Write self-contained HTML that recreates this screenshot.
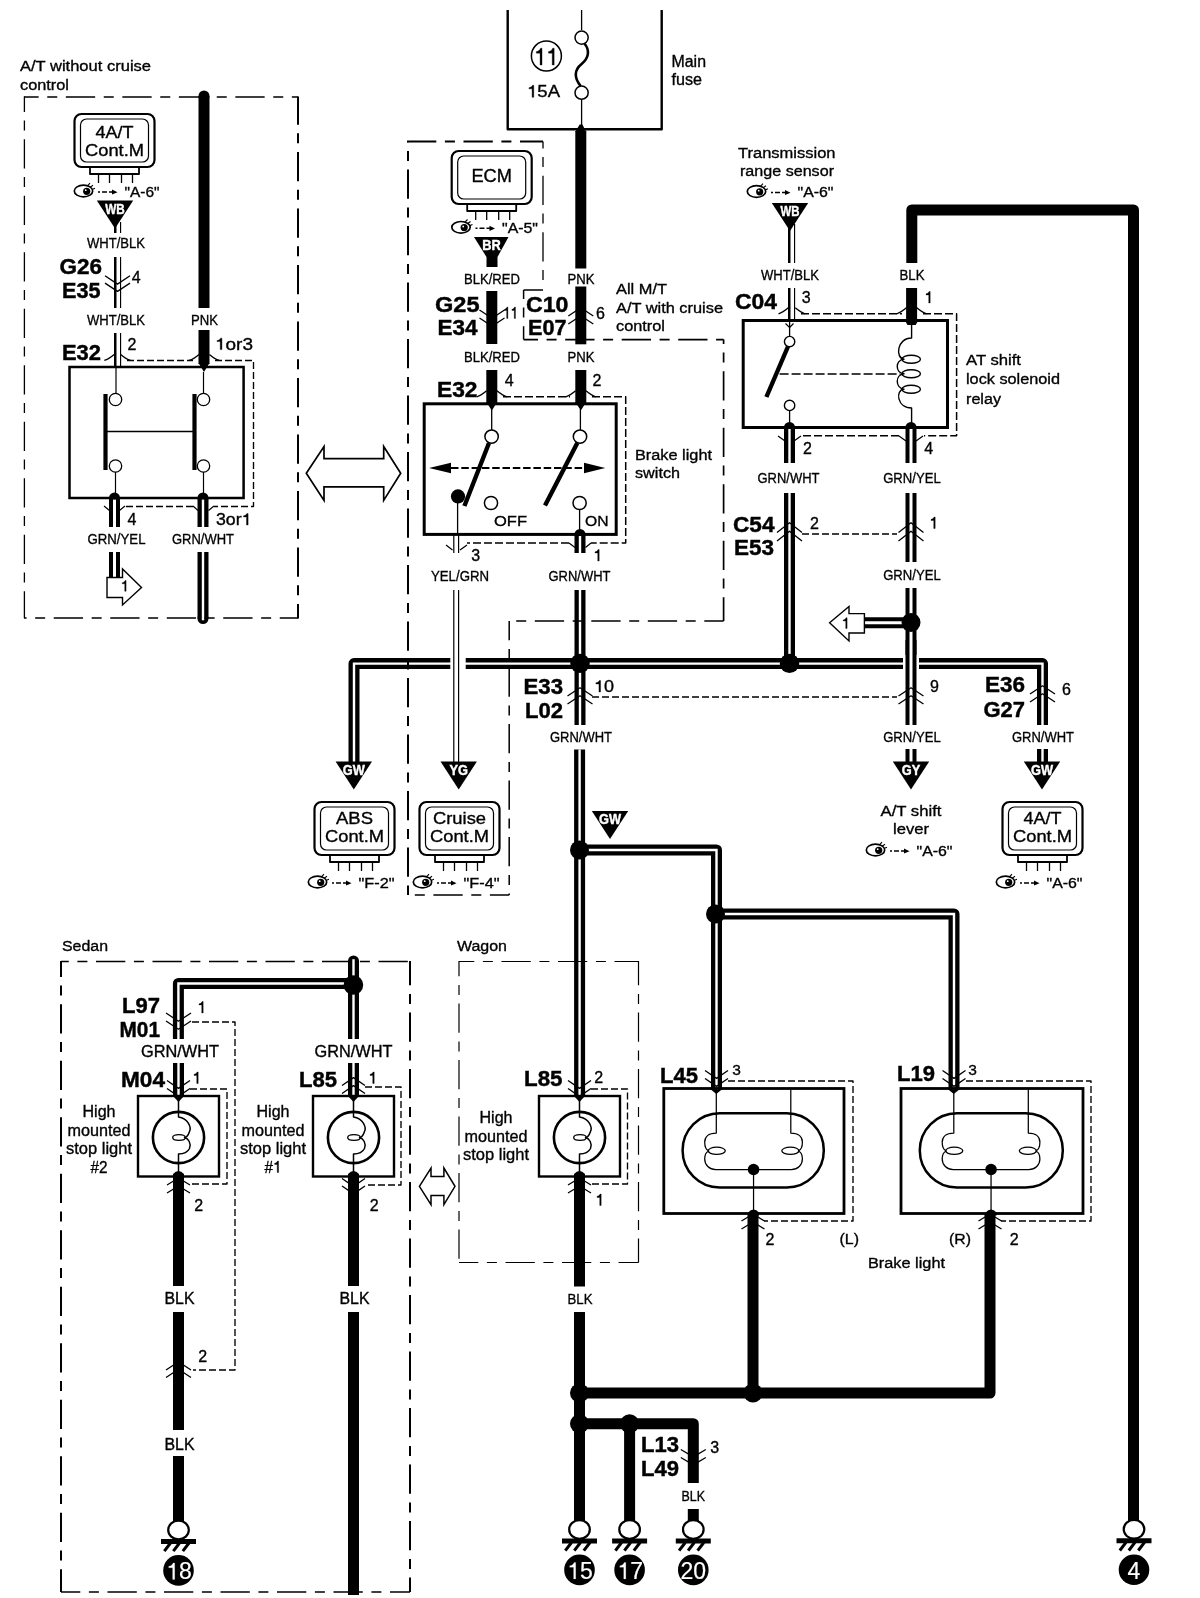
<!DOCTYPE html><html><head><meta charset="utf-8"><title>Brake light wiring diagram</title>
<style>html,body{margin:0;padding:0;background:#fff}svg{display:block}text{font-family:"Liberation Sans",sans-serif}</style></head><body>
<svg width="1200" height="1598" viewBox="0 0 1200 1598">
<rect width="1200" height="1598" fill="#fff"/>
<g id="under">
</g>
<g id="black">
<path d="M204,96 V308" fill="none" stroke="#000" stroke-width="11" stroke-linejoin="round" stroke-linecap="butt"/>
<path d="M204,330 V364" fill="none" stroke="#000" stroke-width="11" stroke-linejoin="round" stroke-linecap="butt"/>
<path d="M198.5,363 L204,372 L209.5,363 Z" fill="#000"/>
<rect x="114" y="222" width="2.5" height="11" fill="#000"/>
<rect x="120" y="222" width="1.15" height="11" fill="#000"/>
<rect x="114" y="257" width="2.5" height="51" fill="#000"/>
<rect x="120" y="257" width="1.15" height="51" fill="#000"/>
<rect x="114" y="333" width="2.5" height="34" fill="#000"/>
<rect x="120" y="333" width="1.15" height="34" fill="#000"/>
<path d="M114.5,499 V527" fill="none" stroke="#000" stroke-width="11" stroke-linejoin="round" stroke-linecap="butt"/>
<path d="M203,499 V527" fill="none" stroke="#000" stroke-width="11" stroke-linejoin="round" stroke-linecap="butt"/>
<path d="M114.5,552 V578" fill="none" stroke="#000" stroke-width="11" stroke-linejoin="round" stroke-linecap="butt"/>
<path d="M203,552 V618.5" fill="none" stroke="#000" stroke-width="11"/>
<circle cx="203" cy="618.5" r="5.5" fill="#000"/>
<path d="M580.8,131 V268.5" fill="none" stroke="#000" stroke-width="11" stroke-linejoin="round" stroke-linecap="butt"/>
<path d="M575.3,132 L579.6,124.5 H582.4 L586.3,132 Z" fill="#000"/>
<path d="M580.8,286.5 V344.3" fill="none" stroke="#000" stroke-width="11" stroke-linejoin="round" stroke-linecap="butt"/>
<path d="M580.8,370 V403" fill="none" stroke="#000" stroke-width="11" stroke-linejoin="round" stroke-linecap="butt"/>
<path d="M491.8,291 V344" fill="none" stroke="#000" stroke-width="11" stroke-linejoin="round" stroke-linecap="butt"/>
<path d="M491.8,370 V403" fill="none" stroke="#000" stroke-width="11" stroke-linejoin="round" stroke-linecap="butt"/>
<path d="M486.3,402 L491.8,410.5 L497.3,402 Z" fill="#000"/>
<path d="M575.3,402 L580.8,410.5 L586.3,402 Z" fill="#000"/>
<rect x="453.2" y="534" width="1.2" height="19" fill="#000"/>
<rect x="458" y="534" width="1.2" height="19" fill="#000"/>
<path d="M580,535 V553" fill="none" stroke="#000" stroke-width="11" stroke-linejoin="round" stroke-linecap="butt"/>
<path d="M580,590 V725" fill="none" stroke="#000" stroke-width="11" stroke-linejoin="round" stroke-linecap="butt"/>
<path d="M354,763 V663.6 H1042.5 V725" fill="none" stroke="#000" stroke-width="11" stroke-linejoin="round" stroke-linecap="butt"/>
<path d="M1042.5,749 V763" fill="none" stroke="#000" stroke-width="11" stroke-linejoin="round" stroke-linecap="butt"/>
<path d="M579.6,749.5 V1097" fill="none" stroke="#000" stroke-width="11" stroke-linejoin="round" stroke-linecap="butt"/>
<path d="M579,850 H716.5 V1090" fill="none" stroke="#000" stroke-width="11" stroke-linejoin="round" stroke-linecap="butt"/>
<path d="M716,914 H954 V1090" fill="none" stroke="#000" stroke-width="11" stroke-linejoin="round" stroke-linecap="butt"/>
<rect x="788" y="224" width="2.5" height="39" fill="#000"/>
<rect x="794" y="224" width="1.15" height="39" fill="#000"/>
<rect x="788" y="288" width="2.5" height="33" fill="#000"/>
<rect x="794" y="288" width="1.15" height="33" fill="#000"/>
<path d="M911.8,263 V210 H1133.5 V1521" fill="none" stroke="#000" stroke-width="11" stroke-linejoin="round" stroke-linecap="butt"/>
<path d="M911.6,288 V323" fill="none" stroke="#000" stroke-width="11" stroke-linejoin="round" stroke-linecap="butt"/>
<path d="M906.1,322.5 L907.5,325 H915.7 L917.1,322.5 Z" fill="#000"/>
<path d="M789.5,428 V463" fill="none" stroke="#000" stroke-width="11" stroke-linejoin="round" stroke-linecap="butt"/>
<path d="M789.5,493 V663" fill="none" stroke="#000" stroke-width="11" stroke-linejoin="round" stroke-linecap="butt"/>
<path d="M911,428 V463" fill="none" stroke="#000" stroke-width="11" stroke-linejoin="round" stroke-linecap="butt"/>
<path d="M911,493 V562" fill="none" stroke="#000" stroke-width="11" stroke-linejoin="round" stroke-linecap="butt"/>
<path d="M911,588 V656" fill="none" stroke="#000" stroke-width="11" stroke-linejoin="round" stroke-linecap="butt"/>
<path d="M864,622.7 H911" fill="none" stroke="#000" stroke-width="11" stroke-linejoin="round" stroke-linecap="butt"/>
<path d="M911,749 V763" fill="none" stroke="#000" stroke-width="11" stroke-linejoin="round" stroke-linecap="butt"/>
<path d="M353.5,1039 V961" fill="none" stroke="#000" stroke-width="11"/>
<circle cx="353.5" cy="961" r="5.5" fill="#000"/>
<path d="M353.5,983.5 H178.4 V1039" fill="none" stroke="#000" stroke-width="11" stroke-linejoin="round" stroke-linecap="butt"/>
<path d="M178.5,1063 V1097" fill="none" stroke="#000" stroke-width="11" stroke-linejoin="round" stroke-linecap="butt"/>
<path d="M353.5,1063 V1097" fill="none" stroke="#000" stroke-width="11" stroke-linejoin="round" stroke-linecap="butt"/>
<path d="M173.0,1096 L178.5,1102 L184.0,1096 Z" fill="#000"/>
<path d="M173.0,1176 L173.0,1174 Q178.5,1168 184.0,1174 L184.0,1176 Z" fill="#000"/>
<path d="M348.0,1096 L353.5,1102 L359.0,1096 Z" fill="#000"/>
<path d="M348.0,1176 L348.0,1174 Q353.5,1168 359.0,1174 L359.0,1176 Z" fill="#000"/>
<path d="M574.0,1096 L579.5,1102 L585.0,1096 Z" fill="#000"/>
<path d="M574.0,1176 L574.0,1174 Q579.5,1168 585.0,1174 L585.0,1176 Z" fill="#000"/>
<path d="M178.5,1176 V1286" fill="none" stroke="#000" stroke-width="11" stroke-linejoin="round" stroke-linecap="butt"/>
<path d="M178.5,1312 V1430" fill="none" stroke="#000" stroke-width="11" stroke-linejoin="round" stroke-linecap="butt"/>
<path d="M178.5,1456 V1521" fill="none" stroke="#000" stroke-width="11" stroke-linejoin="round" stroke-linecap="butt"/>
<path d="M353.5,1176 V1286" fill="none" stroke="#000" stroke-width="11" stroke-linejoin="round" stroke-linecap="butt"/>
<path d="M353.5,1312 V1595" fill="none" stroke="#000" stroke-width="11" stroke-linejoin="round" stroke-linecap="butt"/>
<path d="M579.5,1176 V1286.5" fill="none" stroke="#000" stroke-width="11" stroke-linejoin="round" stroke-linecap="butt"/>
<path d="M579.5,1312 V1521" fill="none" stroke="#000" stroke-width="11" stroke-linejoin="round" stroke-linecap="butt"/>
<path d="M579.5,1393 H990 V1213" fill="none" stroke="#000" stroke-width="11" stroke-linejoin="round" stroke-linecap="butt"/>
<path d="M753,1393 V1213" fill="none" stroke="#000" stroke-width="11" stroke-linejoin="round" stroke-linecap="butt"/>
<path d="M579.5,1423.7 H693.3 V1483" fill="none" stroke="#000" stroke-width="11" stroke-linejoin="round" stroke-linecap="butt"/>
<path d="M693.3,1509 V1521" fill="none" stroke="#000" stroke-width="11" stroke-linejoin="round" stroke-linecap="butt"/>
<path d="M629.6,1423.7 V1521" fill="none" stroke="#000" stroke-width="11" stroke-linejoin="round" stroke-linecap="butt"/>
<path d="M710.8,1088.5 L710.8,1089.5 L716.3,1094.0 L721.8,1089.5 L721.8,1088.5 Z" fill="#000"/>
<path d="M748.05,1215.5 L748.05,1212.5 Q753.55,1206.5 759.05,1212.5 L759.05,1215.5 Z" fill="#000"/>
<path d="M948.3,1088.5 L948.3,1089.5 L953.8,1094.0 L959.3,1089.5 L959.3,1088.5 Z" fill="#000"/>
<path d="M985.55,1215.5 L985.55,1212.5 Q991.05,1206.5 996.55,1212.5 L996.55,1215.5 Z" fill="#000"/>
</g>
<g id="white">
<path d="M114.5,499 V527" fill="none" stroke="#fff" stroke-width="3" stroke-linejoin="miter" stroke-linecap="butt"/>
<path d="M203,499 V527" fill="none" stroke="#fff" stroke-width="2.4" stroke-linejoin="miter" stroke-linecap="butt"/>
<path d="M114.5,552 V578" fill="none" stroke="#fff" stroke-width="3" stroke-linejoin="miter" stroke-linecap="butt"/>
<path d="M203,552 V620.3" fill="none" stroke="#fff" stroke-width="2.4"/>
<path d="M580,535 V553" fill="none" stroke="#fff" stroke-width="2.4" stroke-linejoin="miter" stroke-linecap="butt"/>
<path d="M580,590 V725" fill="none" stroke="#fff" stroke-width="2.4" stroke-linejoin="miter" stroke-linecap="butt"/>
<path d="M354,763 V663.6 H1042.5 V725" fill="none" stroke="#fff" stroke-width="2.4" stroke-linejoin="miter" stroke-linecap="butt"/>
<path d="M1042.5,749 V763" fill="none" stroke="#fff" stroke-width="2.4" stroke-linejoin="miter" stroke-linecap="butt"/>
<path d="M579.6,749.5 V1097" fill="none" stroke="#fff" stroke-width="2.4" stroke-linejoin="miter" stroke-linecap="butt"/>
<path d="M579,850 H716.5 V1090" fill="none" stroke="#fff" stroke-width="2.4" stroke-linejoin="miter" stroke-linecap="butt"/>
<path d="M716,914 H954 V1090" fill="none" stroke="#fff" stroke-width="2.4" stroke-linejoin="miter" stroke-linecap="butt"/>
<path d="M789.5,428 V463" fill="none" stroke="#fff" stroke-width="2.4" stroke-linejoin="miter" stroke-linecap="butt"/>
<path d="M789.5,493 V663" fill="none" stroke="#fff" stroke-width="2.4" stroke-linejoin="miter" stroke-linecap="butt"/>
<path d="M911,428 V463" fill="none" stroke="#fff" stroke-width="3" stroke-linejoin="miter" stroke-linecap="butt"/>
<path d="M911,493 V562" fill="none" stroke="#fff" stroke-width="3" stroke-linejoin="miter" stroke-linecap="butt"/>
<path d="M911,588 V656" fill="none" stroke="#fff" stroke-width="3" stroke-linejoin="miter" stroke-linecap="butt"/>
<path d="M864,622.7 H911" fill="none" stroke="#fff" stroke-width="3" stroke-linejoin="miter" stroke-linecap="butt"/>
<path d="M911,749 V763" fill="none" stroke="#fff" stroke-width="3" stroke-linejoin="miter" stroke-linecap="butt"/>
<path d="M353.5,1039 V959.2" fill="none" stroke="#fff" stroke-width="2.4"/>
<path d="M353.5,983.5 H178.4 V1039" fill="none" stroke="#fff" stroke-width="2.4" stroke-linejoin="miter" stroke-linecap="butt"/>
<path d="M178.5,1063 V1097" fill="none" stroke="#fff" stroke-width="2.4" stroke-linejoin="miter" stroke-linecap="butt"/>
<path d="M353.5,1063 V1097" fill="none" stroke="#fff" stroke-width="2.4" stroke-linejoin="miter" stroke-linecap="butt"/>
</g>
<g id="over">
<circle cx="204" cy="96" r="5.5" fill="#000"/>
<path d="M109.0,499.6 V498 A5.5,5.5 0 0 1 120.0,498 V499.6 Z" fill="#000"/>
<path d="M197.5,499.6 V498 A5.5,5.5 0 0 1 208.5,498 V499.6 Z" fill="#000"/>
<path d="M574.5,536.1 V534.5 A5.5,5.5 0 0 1 585.5,534.5 V536.1 Z" fill="#000"/>
<rect x="450.3" y="655" width="15.399999999999977" height="16" fill="#fff"/>
<rect x="453.2" y="590" width="1.2" height="173" fill="#000"/><rect x="458" y="590" width="1.2" height="173" fill="#000"/>
<path d="M784.0,429.1 V427.5 A5.5,5.5 0 0 1 795.0,427.5 V429.1 Z" fill="#000"/>
<path d="M905.5,429.1 V427.5 A5.5,5.5 0 0 1 916.5,427.5 V429.1 Z" fill="#000"/>
<rect x="903" y="655" width="16" height="16" fill="#fff"/>
<path d="M911,640 V725" fill="none" stroke="#000" stroke-width="11" stroke-linejoin="round"/>
<path d="M911,640 V725" fill="none" stroke="#fff" stroke-width="3"/>
</g>
<g id="top">
<path d="M24,97 L298,97" fill="none" stroke="#000" stroke-width="1.3" stroke-dasharray="29.3 8.6 10 8.6" stroke-dashoffset="14.65"/>
<path d="M24.4,96.4 L24.4,618" fill="none" stroke="#000" stroke-width="1.3" stroke-dasharray="29.3 8.6 10 8.6" stroke-dashoffset="13.7"/>
<path d="M298,96.4 L298,618.6" fill="none" stroke="#000" stroke-width="2" stroke-dasharray="29.3 8.6 10 8.6" stroke-dashoffset="1"/>
<path d="M24,618 L298,618" fill="none" stroke="#000" stroke-width="1.3" stroke-dasharray="29.3 8.6 10 8.6" stroke-dashoffset="26.75"/>
<rect x="74.5" y="114" width="80.0" height="53" rx="7" fill="#fff" stroke="#000" stroke-width="2.2"/>
<rect x="80.5" y="119" width="68.0" height="43" rx="6" fill="none" stroke="#000" stroke-width="1.2"/>
<path d="M90.0,167 V174 H139.0 V167" fill="none" stroke="#000" stroke-width="1.8" stroke-linecap="butt" stroke-linejoin="round"/>
<path d="M98.5,174 V183" fill="none" stroke="#000" stroke-width="1.3" stroke-linecap="butt" stroke-linejoin="round"/>
<path d="M109.5,174 V183" fill="none" stroke="#000" stroke-width="1.3" stroke-linecap="butt" stroke-linejoin="round"/>
<path d="M121.5,174 V183" fill="none" stroke="#000" stroke-width="1.3" stroke-linecap="butt" stroke-linejoin="round"/>
<path d="M132.5,174 V183" fill="none" stroke="#000" stroke-width="1.3" stroke-linecap="butt" stroke-linejoin="round"/>
<ellipse cx="83.5" cy="191" rx="9.2" ry="5.8" fill="#fff" stroke="#000" stroke-width="1.7"/>
<circle cx="86.7" cy="191.3" r="3.6" fill="#000"/>
<circle cx="85.7" cy="190.2" r="0.9" fill="#fff"/>
<path d="M87.5,185.8 l2.5,-2.6 M90.0,187.4 l3,-2.2 M92.0,189.4 l3,-1.2" fill="none" stroke="#000" stroke-width="1.1" stroke-linecap="butt" stroke-linejoin="round"/>
<path d="M98,192 h2 M102,192 h5 M109,192 h4" fill="none" stroke="#000" stroke-width="1.5" stroke-linecap="butt" stroke-linejoin="round"/>
<path d="M112,189.4 L117.5,192.2 L112,194.6 Z" fill="#000"/>
<path d="M96.8,200.5 L133.2,200.5 L115,228.5 Z" fill="#000"/>
<path d="M105.0,275.8 L117.5,284.10555555555555 L130.0,275.8" fill="none" stroke="#000" stroke-width="1.3" stroke-linecap="butt" stroke-linejoin="round"/>
<path d="M105.0,283.1 L117.5,291.40555555555557 L130.0,283.1" fill="none" stroke="#000" stroke-width="1.3" stroke-linecap="butt" stroke-linejoin="round"/>
<path d="M104.3,360.4 Q108.575,359.2 114.1,354.4" fill="none" stroke="#000" stroke-width="1.3" stroke-linecap="butt" stroke-linejoin="round"/>
<path d="M130.5,360.4 Q126.225,359.2 120.7,354.4" fill="none" stroke="#000" stroke-width="1.3" stroke-linecap="butt" stroke-linejoin="round"/>
<path d="M189.2,360.4 Q193.475,359.2 199.0,354.4" fill="none" stroke="#000" stroke-width="1.3" stroke-linecap="butt" stroke-linejoin="round"/>
<path d="M219.2,360.4 Q214.92499999999998,359.2 209.39999999999998,354.4" fill="none" stroke="#000" stroke-width="1.3" stroke-linecap="butt" stroke-linejoin="round"/>
<path d="M127,360.5 H193" fill="none" stroke="#000" stroke-width="1.35" stroke-dasharray="7 3" stroke-linecap="butt" stroke-linejoin="round"/>
<path d="M215,360.5 H253.5 V506.5 H214" fill="none" stroke="#000" stroke-width="1.35" stroke-dasharray="7 3" stroke-linecap="butt" stroke-linejoin="round"/>
<path d="M193,506.5 H125" fill="none" stroke="#000" stroke-width="1.35" stroke-dasharray="7 3" stroke-linecap="butt" stroke-linejoin="round"/>
<rect x="69.5" y="367" width="174.1" height="131" rx="0" fill="none" stroke="#000" stroke-width="2.5"/>
<path d="M116,368 V393" fill="none" stroke="#000" stroke-width="1.2" stroke-linecap="butt" stroke-linejoin="round"/>
<circle cx="115.5" cy="399.5" r="6.2" fill="#fff" stroke="#000" stroke-width="1.3"/>
<circle cx="115.5" cy="466" r="6.2" fill="#fff" stroke="#000" stroke-width="1.3"/>
<path d="M115.5,472 V498" fill="none" stroke="#000" stroke-width="1.2" stroke-linecap="butt" stroke-linejoin="round"/>
<path d="M105.5,394 V470" fill="none" stroke="#000" stroke-width="4.2" stroke-linecap="butt" stroke-linejoin="round"/>
<path d="M194.5,394 V470" fill="none" stroke="#000" stroke-width="4.2" stroke-linecap="butt" stroke-linejoin="round"/>
<path d="M106,431.5 H194" fill="none" stroke="#000" stroke-width="1.3" stroke-linecap="butt" stroke-linejoin="round"/>
<path d="M203.5,372 V393" fill="none" stroke="#000" stroke-width="1.2" stroke-linecap="butt" stroke-linejoin="round"/>
<circle cx="203.5" cy="399.5" r="6.2" fill="#fff" stroke="#000" stroke-width="1.3"/>
<circle cx="203.5" cy="466" r="6.2" fill="#fff" stroke="#000" stroke-width="1.3"/>
<path d="M203.5,472 V498" fill="none" stroke="#000" stroke-width="1.2" stroke-linecap="butt" stroke-linejoin="round"/>
<path d="M104,506 L109.5,510.5" fill="none" stroke="#000" stroke-width="1.2" stroke-linecap="butt" stroke-linejoin="round"/>
<path d="M125,506 L119.5,510.5" fill="none" stroke="#000" stroke-width="1.2" stroke-linecap="butt" stroke-linejoin="round"/>
<path d="M193,506 L198,510.5" fill="none" stroke="#000" stroke-width="1.2" stroke-linecap="butt" stroke-linejoin="round"/>
<path d="M214,506 L208.5,510.5" fill="none" stroke="#000" stroke-width="1.2" stroke-linecap="butt" stroke-linejoin="round"/>
<path d="M107,577.5 H122.5 V569 L141.5,587.5 L122.5,605 V597.5 H107 Z" fill="#fff" stroke="#000" stroke-width="1.4"/>
<path d="M306.3,473.3 L324,446.5 V458.7 H383.7 V446.5 L400.7,473.3 L383.7,500.4 V486.9 H324 V500.4 Z" fill="#fff" stroke="#000" stroke-width="1.7" stroke-linejoin="miter"/>
<path d="M507.7,10 V129.3 H661.7 V10" fill="none" stroke="#000" stroke-width="2.4" stroke-linecap="butt" stroke-linejoin="round"/>
<path d="M581.6,10 V30" fill="none" stroke="#000" stroke-width="1.3" stroke-linecap="butt" stroke-linejoin="round"/>
<circle cx="581.6" cy="37.6" r="6.6" fill="#fff" stroke="#000" stroke-width="1.5"/>
<circle cx="581.6" cy="92.7" r="6.6" fill="#fff" stroke="#000" stroke-width="1.5"/>
<path d="M581.6,100 V126" fill="none" stroke="#000" stroke-width="1.3" stroke-linecap="butt" stroke-linejoin="round"/>
<path d="M584.4,43.5 C590,50 589,58 581.6,64 C574,70 574,78 580.7,86" fill="none" stroke="#000" stroke-width="2.6" stroke-linecap="butt" stroke-linejoin="round"/>
<circle cx="546.4" cy="56" r="15" fill="#fff" stroke="#000" stroke-width="1.5"/>
<path d="M408,141.5 L408,895" fill="none" stroke="#000" stroke-width="2" stroke-dasharray="29.3 8.6 10 8.6" stroke-dashoffset="28.5"/>
<path d="M407,141.5 L543,141.5" fill="none" stroke="#000" stroke-width="2" stroke-dasharray="29.3 8.6 10 8.6" stroke-dashoffset="0"/>
<path d="M543,141.5 L543,285" fill="none" stroke="#000" stroke-width="1.3" stroke-dasharray="29.3 8.6 10 8.6" stroke-dashoffset="22.3"/>
<path d="M523.6,290 H543" fill="none" stroke="#000" stroke-width="1.5" stroke-linecap="butt" stroke-linejoin="round"/>
<path d="M523.6,290 L523.6,339.6" fill="none" stroke="#000" stroke-width="1.5" stroke-dasharray="29.3 8.6 10 8.6" stroke-dashoffset="20.3"/>
<path d="M523.6,339.6 L723.6,339.6" fill="none" stroke="#000" stroke-width="1.7" stroke-dasharray="29.3 8.6 10 8.6" stroke-dashoffset="14.9"/>
<path d="M723.6,339.6 L723.6,621" fill="none" stroke="#000" stroke-width="1.7" stroke-dasharray="29.3 8.6 10 8.6" stroke-dashoffset="24.9"/>
<path d="M723.6,621 L509,621" fill="none" stroke="#000" stroke-width="1.5" stroke-dasharray="29.3 8.6 10 8.6" stroke-dashoffset="10"/>
<path d="M509.2,621 L509.2,895" fill="none" stroke="#000" stroke-width="1.5" stroke-dasharray="29.3 8.6 10 8.6" stroke-dashoffset="10"/>
<path d="M509.2,895 L408,895" fill="none" stroke="#000" stroke-width="1.4" stroke-dasharray="29.3 8.6 10 8.6" stroke-dashoffset="10"/>
<rect x="451.7" y="151" width="80.00000000000006" height="53" rx="7" fill="#fff" stroke="#000" stroke-width="2.2"/>
<rect x="457.7" y="156" width="68.00000000000006" height="43" rx="6" fill="none" stroke="#000" stroke-width="1.2"/>
<path d="M467.2,204 V211 H516.2 V204" fill="none" stroke="#000" stroke-width="1.8" stroke-linecap="butt" stroke-linejoin="round"/>
<path d="M475.7,211 V220" fill="none" stroke="#000" stroke-width="1.3" stroke-linecap="butt" stroke-linejoin="round"/>
<path d="M486.7,211 V220" fill="none" stroke="#000" stroke-width="1.3" stroke-linecap="butt" stroke-linejoin="round"/>
<path d="M498.7,211 V220" fill="none" stroke="#000" stroke-width="1.3" stroke-linecap="butt" stroke-linejoin="round"/>
<path d="M509.7,211 V220" fill="none" stroke="#000" stroke-width="1.3" stroke-linecap="butt" stroke-linejoin="round"/>
<ellipse cx="461.0" cy="227.3" rx="9.2" ry="5.8" fill="#fff" stroke="#000" stroke-width="1.7"/>
<circle cx="464.2" cy="227.60000000000002" r="3.6" fill="#000"/>
<circle cx="463.2" cy="226.5" r="0.9" fill="#fff"/>
<path d="M465.0,222.10000000000002 l2.5,-2.6 M467.5,223.70000000000002 l3,-2.2 M469.5,225.70000000000002 l3,-1.2" fill="none" stroke="#000" stroke-width="1.1" stroke-linecap="butt" stroke-linejoin="round"/>
<path d="M475.5,228.3 h2 M479.5,228.3 h5 M486.5,228.3 h4" fill="none" stroke="#000" stroke-width="1.5" stroke-linecap="butt" stroke-linejoin="round"/>
<path d="M489.5,225.70000000000002 L495.0,228.5 L489.5,230.9 Z" fill="#000"/>
<path d="M474,237 H508.5 L497.5,257 V267 H486.5 V257 Z" fill="#000"/>
<path d="M479.5,310 L492,318.2142857142857 L504.5,310" fill="none" stroke="#000" stroke-width="1.3" stroke-linecap="butt" stroke-linejoin="round"/>
<path d="M479.5,318 L492,326.2142857142857 L504.5,318" fill="none" stroke="#000" stroke-width="1.3" stroke-linecap="butt" stroke-linejoin="round"/>
<path d="M568.3,316 L580.8,307.7857142857143 L593.3,316" fill="none" stroke="#000" stroke-width="1.3" stroke-linecap="butt" stroke-linejoin="round"/>
<path d="M568.3,324 L580.8,315.7857142857143 L593.3,324" fill="none" stroke="#000" stroke-width="1.3" stroke-linecap="butt" stroke-linejoin="round"/>
<rect x="424.2" y="403.8" width="192.00000000000006" height="130.59999999999997" rx="0" fill="none" stroke="#000" stroke-width="3"/>
<path d="M476.8,396.8 Q481.075,395.6 486.6,390.8" fill="none" stroke="#000" stroke-width="1.3" stroke-linecap="butt" stroke-linejoin="round"/>
<path d="M506.8,396.8 Q502.52500000000003,395.6 497.0,390.8" fill="none" stroke="#000" stroke-width="1.3" stroke-linecap="butt" stroke-linejoin="round"/>
<path d="M565.8,396.8 Q570.0749999999999,395.6 575.5999999999999,390.8" fill="none" stroke="#000" stroke-width="1.3" stroke-linecap="butt" stroke-linejoin="round"/>
<path d="M595.8,396.8 Q591.525,395.6 586.0,390.8" fill="none" stroke="#000" stroke-width="1.3" stroke-linecap="butt" stroke-linejoin="round"/>
<path d="M503,396.7 H570" fill="none" stroke="#000" stroke-width="1.5" stroke-dasharray="8 3" stroke-linecap="butt" stroke-linejoin="round"/>
<path d="M592,396.7 H625.7 V543 H591" fill="none" stroke="#000" stroke-width="1.5" stroke-dasharray="8 3" stroke-linecap="butt" stroke-linejoin="round"/>
<path d="M569,543 H467" fill="none" stroke="#000" stroke-width="1.5" stroke-dasharray="8 3" stroke-linecap="butt" stroke-linejoin="round"/>
<path d="M491.7,409 V431" fill="none" stroke="#000" stroke-width="1.3" stroke-linecap="butt" stroke-linejoin="round"/>
<circle cx="491.6" cy="436.6" r="6.7" fill="#fff" stroke="#000" stroke-width="1.5"/>
<path d="M489,443 L464.4,506" fill="none" stroke="#000" stroke-width="4.4" stroke-linecap="butt" stroke-linejoin="round"/>
<circle cx="458" cy="496.4" r="7.1" fill="#000"/>
<path d="M457.6,500 V534" fill="none" stroke="#000" stroke-width="1.3" stroke-linecap="butt" stroke-linejoin="round"/>
<circle cx="491" cy="503" r="6.6" fill="#fff" stroke="#000" stroke-width="1.5"/>
<path d="M580.4,409 V431" fill="none" stroke="#000" stroke-width="1.3" stroke-linecap="butt" stroke-linejoin="round"/>
<circle cx="580" cy="436.6" r="6.7" fill="#fff" stroke="#000" stroke-width="1.5"/>
<path d="M577.3,443 L545,505.5" fill="none" stroke="#000" stroke-width="4.4" stroke-linecap="butt" stroke-linejoin="round"/>
<circle cx="579.6" cy="503" r="6.6" fill="#fff" stroke="#000" stroke-width="1.5"/>
<path d="M579.6,509 V534" fill="none" stroke="#000" stroke-width="1.3" stroke-linecap="butt" stroke-linejoin="round"/>
<path d="M451,468 H585" fill="none" stroke="#000" stroke-width="2.1" stroke-dasharray="7.5 2.8" stroke-linecap="butt" stroke-linejoin="round"/>
<path d="M429,468 L451,462.7 V473.3 Z M605.3,468 L584,462.7 V473.3 Z" fill="#000"/>
<path d="M446,545 L452.5,550" fill="none" stroke="#000" stroke-width="1.2" stroke-linecap="butt" stroke-linejoin="round"/>
<path d="M467,545 L460,550" fill="none" stroke="#000" stroke-width="1.2" stroke-linecap="butt" stroke-linejoin="round"/>
<path d="M569,543 L575,547.5" fill="none" stroke="#000" stroke-width="1.2" stroke-linecap="butt" stroke-linejoin="round"/>
<path d="M591,543 L585.5,547.5" fill="none" stroke="#000" stroke-width="1.2" stroke-linecap="butt" stroke-linejoin="round"/>
<circle cx="580" cy="663.4" r="9.7" fill="#000"/>
<circle cx="789.5" cy="663.4" r="9.7" fill="#000"/>
<path d="M335.6,761.5 L372.0,761.5 L353.8,789.5 Z" fill="#000"/>
<rect x="314.5" y="802" width="80.0" height="53" rx="7" fill="#fff" stroke="#000" stroke-width="2.2"/>
<rect x="320.5" y="807" width="68.0" height="43" rx="6" fill="none" stroke="#000" stroke-width="1.2"/>
<path d="M330.0,855 V862 H379.0 V855" fill="none" stroke="#000" stroke-width="1.8" stroke-linecap="butt" stroke-linejoin="round"/>
<path d="M338.5,862 V871" fill="none" stroke="#000" stroke-width="1.3" stroke-linecap="butt" stroke-linejoin="round"/>
<path d="M349.5,862 V871" fill="none" stroke="#000" stroke-width="1.3" stroke-linecap="butt" stroke-linejoin="round"/>
<path d="M361.5,862 V871" fill="none" stroke="#000" stroke-width="1.3" stroke-linecap="butt" stroke-linejoin="round"/>
<path d="M372.5,862 V871" fill="none" stroke="#000" stroke-width="1.3" stroke-linecap="butt" stroke-linejoin="round"/>
<ellipse cx="317.5" cy="882" rx="9.2" ry="5.8" fill="#fff" stroke="#000" stroke-width="1.7"/>
<circle cx="320.7" cy="882.3" r="3.6" fill="#000"/>
<circle cx="319.7" cy="881.2" r="0.9" fill="#fff"/>
<path d="M321.5,876.8 l2.5,-2.6 M324.0,878.4 l3,-2.2 M326.0,880.4 l3,-1.2" fill="none" stroke="#000" stroke-width="1.1" stroke-linecap="butt" stroke-linejoin="round"/>
<path d="M332,883 h2 M336,883 h5 M343,883 h4" fill="none" stroke="#000" stroke-width="1.5" stroke-linecap="butt" stroke-linejoin="round"/>
<path d="M346,880.4 L351.5,883.2 L346,885.6 Z" fill="#000"/>
<path d="M440.5,761.5 L476.9,761.5 L458.7,789.5 Z" fill="#000"/>
<rect x="419.5" y="802" width="80.0" height="53" rx="7" fill="#fff" stroke="#000" stroke-width="2.2"/>
<rect x="425.5" y="807" width="68.0" height="43" rx="6" fill="none" stroke="#000" stroke-width="1.2"/>
<path d="M435.0,855 V862 H484.0 V855" fill="none" stroke="#000" stroke-width="1.8" stroke-linecap="butt" stroke-linejoin="round"/>
<path d="M443.5,862 V871" fill="none" stroke="#000" stroke-width="1.3" stroke-linecap="butt" stroke-linejoin="round"/>
<path d="M454.5,862 V871" fill="none" stroke="#000" stroke-width="1.3" stroke-linecap="butt" stroke-linejoin="round"/>
<path d="M466.5,862 V871" fill="none" stroke="#000" stroke-width="1.3" stroke-linecap="butt" stroke-linejoin="round"/>
<path d="M477.5,862 V871" fill="none" stroke="#000" stroke-width="1.3" stroke-linecap="butt" stroke-linejoin="round"/>
<ellipse cx="422.5" cy="882" rx="9.2" ry="5.8" fill="#fff" stroke="#000" stroke-width="1.7"/>
<circle cx="425.7" cy="882.3" r="3.6" fill="#000"/>
<circle cx="424.7" cy="881.2" r="0.9" fill="#fff"/>
<path d="M426.5,876.8 l2.5,-2.6 M429.0,878.4 l3,-2.2 M431.0,880.4 l3,-1.2" fill="none" stroke="#000" stroke-width="1.1" stroke-linecap="butt" stroke-linejoin="round"/>
<path d="M437,883 h2 M441,883 h5 M448,883 h4" fill="none" stroke="#000" stroke-width="1.5" stroke-linecap="butt" stroke-linejoin="round"/>
<path d="M451,880.4 L456.5,883.2 L451,885.6 Z" fill="#000"/>
<path d="M567.5,696 L580,687.7857142857143 L592.5,696" fill="none" stroke="#000" stroke-width="1.3" stroke-linecap="butt" stroke-linejoin="round"/>
<path d="M567.5,704 L580,695.7857142857143 L592.5,704" fill="none" stroke="#000" stroke-width="1.3" stroke-linecap="butt" stroke-linejoin="round"/>
<path d="M592,697 H897" fill="none" stroke="#000" stroke-width="1.35" stroke-dasharray="7 3" stroke-linecap="butt" stroke-linejoin="round"/>
<path d="M591.8,811 L628.2,811 L610,839 Z" fill="#000"/>
<circle cx="579.5" cy="850" r="9.5" fill="#000"/>
<circle cx="715.5" cy="914" r="9.5" fill="#000"/>
<ellipse cx="756.5" cy="191.5" rx="9.2" ry="5.8" fill="#fff" stroke="#000" stroke-width="1.7"/>
<circle cx="759.7" cy="191.8" r="3.6" fill="#000"/>
<circle cx="758.7" cy="190.7" r="0.9" fill="#fff"/>
<path d="M760.5,186.3 l2.5,-2.6 M763.0,187.9 l3,-2.2 M765.0,189.9 l3,-1.2" fill="none" stroke="#000" stroke-width="1.1" stroke-linecap="butt" stroke-linejoin="round"/>
<path d="M771,192.5 h2 M775,192.5 h5 M782,192.5 h4" fill="none" stroke="#000" stroke-width="1.5" stroke-linecap="butt" stroke-linejoin="round"/>
<path d="M785,189.9 L790.5,192.7 L785,195.1 Z" fill="#000"/>
<path d="M771.8,203 L808.2,203 L790,231 Z" fill="#000"/>
<rect x="743.2" y="320.5" width="204.29999999999995" height="107.0" rx="0" fill="none" stroke="#000" stroke-width="3"/>
<path d="M778.5,313.8 Q782.775,312.6 788.3,307.8" fill="none" stroke="#000" stroke-width="1.3" stroke-linecap="butt" stroke-linejoin="round"/>
<path d="M805.1,313.8 Q800.825,312.6 795.3000000000001,307.8" fill="none" stroke="#000" stroke-width="1.3" stroke-linecap="butt" stroke-linejoin="round"/>
<path d="M801,313.7 H902" fill="none" stroke="#000" stroke-width="1.5" stroke-dasharray="8 3" stroke-linecap="butt" stroke-linejoin="round"/>
<path d="M923,313.7 H956.6 V435.7 H924" fill="none" stroke="#000" stroke-width="1.5" stroke-dasharray="8 3" stroke-linecap="butt" stroke-linejoin="round"/>
<path d="M899,435.7 H802" fill="none" stroke="#000" stroke-width="1.5" stroke-dasharray="8 3" stroke-linecap="butt" stroke-linejoin="round"/>
<path d="M896.6,313.8 Q900.875,312.6 906.4,307.8" fill="none" stroke="#000" stroke-width="1.3" stroke-linecap="butt" stroke-linejoin="round"/>
<path d="M926.6,313.8 Q922.325,312.6 916.8000000000001,307.8" fill="none" stroke="#000" stroke-width="1.3" stroke-linecap="butt" stroke-linejoin="round"/>
<path d="M785.5,323.5 L789.6,327.5 L793.5,323.5" fill="none" stroke="#000" stroke-width="1.1" stroke-linecap="butt" stroke-linejoin="round"/>
<path d="M789.6,322 V336" fill="none" stroke="#000" stroke-width="1.3" stroke-linecap="butt" stroke-linejoin="round"/>
<circle cx="789.6" cy="341.6" r="5.2" fill="#fff" stroke="#000" stroke-width="1.4"/>
<path d="M788,346.5 L766.4,397" fill="none" stroke="#000" stroke-width="4.4" stroke-linecap="butt" stroke-linejoin="round"/>
<circle cx="789.6" cy="405.4" r="5.2" fill="#fff" stroke="#000" stroke-width="1.4"/>
<path d="M789.6,411 V426" fill="none" stroke="#000" stroke-width="1.3" stroke-linecap="butt" stroke-linejoin="round"/>
<path d="M779.6,374 H900" fill="none" stroke="#000" stroke-width="1.7" stroke-dasharray="9 3" stroke-linecap="butt" stroke-linejoin="round"/>
<path d="M911.6,324 V338 C897,338 895,358 904,359.2 C895,360 895,372.8 904,373.8 C895,374.6 895,388 904,389.2 C895,390 897,408 911.6,408 V427" fill="none" stroke="#000" stroke-width="1.4" stroke-linecap="butt" stroke-linejoin="round"/>
<ellipse cx="911.2" cy="359.2" rx="9.2" ry="4" fill="none" stroke="#000" stroke-width="1.4"/>
<ellipse cx="911.2" cy="373.8" rx="9.2" ry="4" fill="none" stroke="#000" stroke-width="1.4"/>
<ellipse cx="911.2" cy="389.2" rx="9.2" ry="4" fill="none" stroke="#000" stroke-width="1.4"/>
<path d="M778,436 L785,441" fill="none" stroke="#000" stroke-width="1.2" stroke-linecap="butt" stroke-linejoin="round"/>
<path d="M801,436 L794,441" fill="none" stroke="#000" stroke-width="1.2" stroke-linecap="butt" stroke-linejoin="round"/>
<path d="M899,436 L906,441" fill="none" stroke="#000" stroke-width="1.2" stroke-linecap="butt" stroke-linejoin="round"/>
<path d="M923,436 L916,441" fill="none" stroke="#000" stroke-width="1.2" stroke-linecap="butt" stroke-linejoin="round"/>
<path d="M777.0,532.5 L789.5,522.6428571428571 L802.0,532.5" fill="none" stroke="#000" stroke-width="1.3" stroke-linecap="butt" stroke-linejoin="round"/>
<path d="M777.0,541.0 L789.5,531.1428571428571 L802.0,541.0" fill="none" stroke="#000" stroke-width="1.3" stroke-linecap="butt" stroke-linejoin="round"/>
<path d="M898.5,532.5 L911,522.6428571428571 L923.5,532.5" fill="none" stroke="#000" stroke-width="1.3" stroke-linecap="butt" stroke-linejoin="round"/>
<path d="M898.5,541.0 L911,531.1428571428571 L923.5,541.0" fill="none" stroke="#000" stroke-width="1.3" stroke-linecap="butt" stroke-linejoin="round"/>
<path d="M802,534 H897" fill="none" stroke="#000" stroke-width="1.35" stroke-dasharray="7 3" stroke-linecap="butt" stroke-linejoin="round"/>
<path d="M864.4,613.6 H849 V606.4 L829.6,622.7 L849,641 V633 H864.4 Z" fill="#fff" stroke="#000" stroke-width="1.4"/>
<circle cx="911" cy="622.5" r="9.5" fill="#000"/>
<path d="M898.5,696 L911,687.7857142857143 L923.5,696" fill="none" stroke="#000" stroke-width="1.3" stroke-linecap="butt" stroke-linejoin="round"/>
<path d="M898.5,704 L911,695.7857142857143 L923.5,704" fill="none" stroke="#000" stroke-width="1.3" stroke-linecap="butt" stroke-linejoin="round"/>
<path d="M1030.0,694 L1042.5,685.7857142857143 L1055.0,694" fill="none" stroke="#000" stroke-width="1.3" stroke-linecap="butt" stroke-linejoin="round"/>
<path d="M1030.0,702 L1042.5,693.7857142857143 L1055.0,702" fill="none" stroke="#000" stroke-width="1.3" stroke-linecap="butt" stroke-linejoin="round"/>
<path d="M892.8,761.5 L929.2,761.5 L911,789.5 Z" fill="#000"/>
<path d="M1023.8,761.5 L1060.2,761.5 L1042,789.5 Z" fill="#000"/>
<ellipse cx="875.5" cy="850" rx="9.2" ry="5.8" fill="#fff" stroke="#000" stroke-width="1.7"/>
<circle cx="878.7" cy="850.3" r="3.6" fill="#000"/>
<circle cx="877.7" cy="849.2" r="0.9" fill="#fff"/>
<path d="M879.5,844.8 l2.5,-2.6 M882.0,846.4 l3,-2.2 M884.0,848.4 l3,-1.2" fill="none" stroke="#000" stroke-width="1.1" stroke-linecap="butt" stroke-linejoin="round"/>
<path d="M890,851 h2 M894,851 h5 M901,851 h4" fill="none" stroke="#000" stroke-width="1.5" stroke-linecap="butt" stroke-linejoin="round"/>
<path d="M904,848.4 L909.5,851.2 L904,853.6 Z" fill="#000"/>
<rect x="1002.5" y="802" width="80.0" height="53" rx="7" fill="#fff" stroke="#000" stroke-width="2.2"/>
<rect x="1008.5" y="807" width="68.0" height="43" rx="6" fill="none" stroke="#000" stroke-width="1.2"/>
<path d="M1018.0,855 V862 H1067.0 V855" fill="none" stroke="#000" stroke-width="1.8" stroke-linecap="butt" stroke-linejoin="round"/>
<path d="M1026.5,862 V871" fill="none" stroke="#000" stroke-width="1.3" stroke-linecap="butt" stroke-linejoin="round"/>
<path d="M1037.5,862 V871" fill="none" stroke="#000" stroke-width="1.3" stroke-linecap="butt" stroke-linejoin="round"/>
<path d="M1049.5,862 V871" fill="none" stroke="#000" stroke-width="1.3" stroke-linecap="butt" stroke-linejoin="round"/>
<path d="M1060.5,862 V871" fill="none" stroke="#000" stroke-width="1.3" stroke-linecap="butt" stroke-linejoin="round"/>
<ellipse cx="1005.5" cy="882" rx="9.2" ry="5.8" fill="#fff" stroke="#000" stroke-width="1.7"/>
<circle cx="1008.7" cy="882.3" r="3.6" fill="#000"/>
<circle cx="1007.7" cy="881.2" r="0.9" fill="#fff"/>
<path d="M1009.5,876.8 l2.5,-2.6 M1012.0,878.4 l3,-2.2 M1014.0,880.4 l3,-1.2" fill="none" stroke="#000" stroke-width="1.1" stroke-linecap="butt" stroke-linejoin="round"/>
<path d="M1020,883 h2 M1024,883 h5 M1031,883 h4" fill="none" stroke="#000" stroke-width="1.5" stroke-linecap="butt" stroke-linejoin="round"/>
<path d="M1034,880.4 L1039.5,883.2 L1034,885.6 Z" fill="#000"/>
<path d="M61,961.5 L410,961.5" fill="none" stroke="#000" stroke-width="1.4" stroke-dasharray="29.3 8.6 10 8.6" stroke-dashoffset="21.5"/>
<path d="M61,961 L61,1592" fill="none" stroke="#000" stroke-width="2" stroke-dasharray="29.3 8.6 10 8.6" stroke-dashoffset="13.3"/>
<path d="M410,961 L410,1592" fill="none" stroke="#000" stroke-width="2" stroke-dasharray="29.3 8.6 10 8.6" stroke-dashoffset="5"/>
<path d="M61,1592 L410,1592" fill="none" stroke="#000" stroke-width="1.6" stroke-dasharray="29.3 8.6 10 8.6" stroke-dashoffset="10"/>
<circle cx="353.4" cy="985" r="9.8" fill="#000"/>
<path d="M166.0,1013 L178.5,1021.2142857142857 L191.0,1013" fill="none" stroke="#000" stroke-width="1.3" stroke-linecap="butt" stroke-linejoin="round"/>
<path d="M166.0,1021 L178.5,1029.2142857142858 L191.0,1021" fill="none" stroke="#000" stroke-width="1.3" stroke-linecap="butt" stroke-linejoin="round"/>
<path d="M192,1022 H235 V1370 H193" fill="none" stroke="#000" stroke-width="1.35" stroke-dasharray="7 3" stroke-linecap="butt" stroke-linejoin="round"/>
<path d="M167.0,1080.5 L178.5,1088.375 L190.0,1080.5" fill="none" stroke="#000" stroke-width="1.3" stroke-linecap="butt" stroke-linejoin="round"/>
<path d="M167.0,1088.5 L178.5,1096.375 L190.0,1088.5" fill="none" stroke="#000" stroke-width="1.3" stroke-linecap="butt" stroke-linejoin="round"/>
<path d="M190,1089 H227 V1184 H190" fill="none" stroke="#000" stroke-width="1.35" stroke-dasharray="7 3" stroke-linecap="butt" stroke-linejoin="round"/>
<rect x="138.0" y="1096" width="81.0" height="80.5" rx="0" fill="none" stroke="#000" stroke-width="2.4"/>
<circle cx="178.5" cy="1137.5" r="25.6" fill="none" stroke="#000" stroke-width="2.6"/>
<path d="M178.5,1100 V1117.0 C188.5,1118.5 191.5,1127.5 189.5,1131.5 C188.5,1134.5 186.5,1137.5 184.5,1137.5 C188.5,1138.5 191.5,1143.5 189.5,1148.5 C187.5,1152.5 182.5,1154.0 178.5,1154.0 V1173" fill="none" stroke="#000" stroke-width="1.5" stroke-linecap="butt" stroke-linejoin="round"/>
<ellipse cx="179.0" cy="1137.5" rx="6.3" ry="2.9" fill="none" stroke="#000" stroke-width="1.3"/>
<rect x="313.0" y="1096" width="81.0" height="80.5" rx="0" fill="none" stroke="#000" stroke-width="2.4"/>
<circle cx="353.5" cy="1137.5" r="25.6" fill="none" stroke="#000" stroke-width="2.6"/>
<path d="M353.5,1100 V1117.0 C363.5,1118.5 366.5,1127.5 364.5,1131.5 C363.5,1134.5 361.5,1137.5 359.5,1137.5 C363.5,1138.5 366.5,1143.5 364.5,1148.5 C362.5,1152.5 357.5,1154.0 353.5,1154.0 V1173" fill="none" stroke="#000" stroke-width="1.5" stroke-linecap="butt" stroke-linejoin="round"/>
<ellipse cx="354.0" cy="1137.5" rx="6.3" ry="2.9" fill="none" stroke="#000" stroke-width="1.3"/>
<rect x="539.0" y="1096" width="81.0" height="80.5" rx="0" fill="none" stroke="#000" stroke-width="2.4"/>
<circle cx="579.5" cy="1137.5" r="25.6" fill="none" stroke="#000" stroke-width="2.6"/>
<path d="M579.5,1100 V1117.0 C589.5,1118.5 592.5,1127.5 590.5,1131.5 C589.5,1134.5 587.5,1137.5 585.5,1137.5 C589.5,1138.5 592.5,1143.5 590.5,1148.5 C588.5,1152.5 583.5,1154.0 579.5,1154.0 V1173" fill="none" stroke="#000" stroke-width="1.5" stroke-linecap="butt" stroke-linejoin="round"/>
<ellipse cx="580.0" cy="1137.5" rx="6.3" ry="2.9" fill="none" stroke="#000" stroke-width="1.3"/>
<path d="M167.0,1185 L178.5,1178.0 L190.0,1185" fill="none" stroke="#000" stroke-width="1.3" stroke-linecap="butt" stroke-linejoin="round"/>
<path d="M167.0,1193 L178.5,1186.0 L190.0,1193" fill="none" stroke="#000" stroke-width="1.3" stroke-linecap="butt" stroke-linejoin="round"/>
<path d="M166.0,1370 L178.5,1361.7857142857142 L191.0,1370" fill="none" stroke="#000" stroke-width="1.3" stroke-linecap="butt" stroke-linejoin="round"/>
<path d="M166.0,1377.5 L178.5,1369.2857142857142 L191.0,1377.5" fill="none" stroke="#000" stroke-width="1.3" stroke-linecap="butt" stroke-linejoin="round"/>
<ellipse cx="178.5" cy="1530" rx="10.3" ry="9.4" fill="#fff" stroke="#000" stroke-width="2.2"/>
<path d="M161.0,1541.4 H196.0" fill="none" stroke="#000" stroke-width="5" stroke-linecap="butt" stroke-linejoin="round"/>
<path d="M170.5,1543 l-6.2,8.2" fill="none" stroke="#000" stroke-width="3" stroke-linecap="butt" stroke-linejoin="round"/>
<path d="M179.5,1543 l-6.2,8.2" fill="none" stroke="#000" stroke-width="3" stroke-linecap="butt" stroke-linejoin="round"/>
<path d="M189.0,1543 l-6.2,8.2" fill="none" stroke="#000" stroke-width="3" stroke-linecap="butt" stroke-linejoin="round"/>
<circle cx="178.5" cy="1570.4" r="15.3" fill="#000"/>
<path d="M342.0,1085.5 L353.5,1077.625 L365.0,1085.5" fill="none" stroke="#000" stroke-width="1.3" stroke-linecap="butt" stroke-linejoin="round"/>
<path d="M342.0,1093.5 L353.5,1085.625 L365.0,1093.5" fill="none" stroke="#000" stroke-width="1.3" stroke-linecap="butt" stroke-linejoin="round"/>
<path d="M365,1087 H401 V1185 H365" fill="none" stroke="#000" stroke-width="1.35" stroke-dasharray="7 3" stroke-linecap="butt" stroke-linejoin="round"/>
<path d="M342.0,1178.5 L353.5,1186.375 L365.0,1178.5" fill="none" stroke="#000" stroke-width="1.3" stroke-linecap="butt" stroke-linejoin="round"/>
<path d="M342.0,1186.0 L353.5,1193.875 L365.0,1186.0" fill="none" stroke="#000" stroke-width="1.3" stroke-linecap="butt" stroke-linejoin="round"/>
<path d="M419.4,1186.3 L431,1168 V1176.6 H443.9 V1168 L455,1186.3 L443.9,1204.6 V1195.6 H431 V1204.6 Z" fill="#fff" stroke="#000" stroke-width="1.5"/>
<path d="M459,961.5 L638.5,961.5" fill="none" stroke="#000" stroke-width="1.2" stroke-dasharray="29.3 8.6 10 8.6" stroke-dashoffset="14"/>
<path d="M459,961 L459,1262.5" fill="none" stroke="#000" stroke-width="1.2" stroke-dasharray="29.3 8.6 10 8.6" stroke-dashoffset="14"/>
<path d="M638.5,961 L638.5,1262.5" fill="none" stroke="#000" stroke-width="1.2" stroke-dasharray="29.3 8.6 10 8.6" stroke-dashoffset="5"/>
<path d="M459,1262.5 L638.5,1262.5" fill="none" stroke="#000" stroke-width="1.2" stroke-dasharray="29.3 8.6 10 8.6" stroke-dashoffset="10"/>
<path d="M568.0,1080.5 L579.5,1088.375 L591.0,1080.5" fill="none" stroke="#000" stroke-width="1.3" stroke-linecap="butt" stroke-linejoin="round"/>
<path d="M568.0,1088.5 L579.5,1096.375 L591.0,1088.5" fill="none" stroke="#000" stroke-width="1.3" stroke-linecap="butt" stroke-linejoin="round"/>
<path d="M591,1089 H627.5 V1184 H591" fill="none" stroke="#000" stroke-width="1.35" stroke-dasharray="7 3" stroke-linecap="butt" stroke-linejoin="round"/>
<path d="M568.0,1185 L579.5,1178.0 L591.0,1185" fill="none" stroke="#000" stroke-width="1.3" stroke-linecap="butt" stroke-linejoin="round"/>
<path d="M568.0,1193 L579.5,1186.0 L591.0,1193" fill="none" stroke="#000" stroke-width="1.3" stroke-linecap="butt" stroke-linejoin="round"/>
<circle cx="579.5" cy="1393" r="9.5" fill="#000"/>
<circle cx="579.5" cy="1423.7" r="9.5" fill="#000"/>
<circle cx="753" cy="1393" r="9.5" fill="#000"/>
<circle cx="629.6" cy="1423.7" r="9.5" fill="#000"/>
<path d="M680.8,1449.5 L693.3,1456.892857142857 L705.8,1449.5" fill="none" stroke="#000" stroke-width="1.3" stroke-linecap="butt" stroke-linejoin="round"/>
<path d="M680.8,1457.5 L693.3,1464.892857142857 L705.8,1457.5" fill="none" stroke="#000" stroke-width="1.3" stroke-linecap="butt" stroke-linejoin="round"/>
<ellipse cx="579.5" cy="1529.5" rx="10.3" ry="9.4" fill="#fff" stroke="#000" stroke-width="2.2"/>
<path d="M562.0,1540.9 H597.0" fill="none" stroke="#000" stroke-width="5" stroke-linecap="butt" stroke-linejoin="round"/>
<path d="M571.5,1542.5 l-6.2,8.2" fill="none" stroke="#000" stroke-width="3" stroke-linecap="butt" stroke-linejoin="round"/>
<path d="M580.5,1542.5 l-6.2,8.2" fill="none" stroke="#000" stroke-width="3" stroke-linecap="butt" stroke-linejoin="round"/>
<path d="M590.0,1542.5 l-6.2,8.2" fill="none" stroke="#000" stroke-width="3" stroke-linecap="butt" stroke-linejoin="round"/>
<circle cx="579.5" cy="1569.9" r="15.3" fill="#000"/>
<ellipse cx="629.6" cy="1529.5" rx="10.3" ry="9.4" fill="#fff" stroke="#000" stroke-width="2.2"/>
<path d="M612.1,1540.9 H647.1" fill="none" stroke="#000" stroke-width="5" stroke-linecap="butt" stroke-linejoin="round"/>
<path d="M621.6,1542.5 l-6.2,8.2" fill="none" stroke="#000" stroke-width="3" stroke-linecap="butt" stroke-linejoin="round"/>
<path d="M630.6,1542.5 l-6.2,8.2" fill="none" stroke="#000" stroke-width="3" stroke-linecap="butt" stroke-linejoin="round"/>
<path d="M640.1,1542.5 l-6.2,8.2" fill="none" stroke="#000" stroke-width="3" stroke-linecap="butt" stroke-linejoin="round"/>
<circle cx="629.6" cy="1569.9" r="15.3" fill="#000"/>
<ellipse cx="693.3" cy="1529.5" rx="10.3" ry="9.4" fill="#fff" stroke="#000" stroke-width="2.2"/>
<path d="M675.8,1540.9 H710.8" fill="none" stroke="#000" stroke-width="5" stroke-linecap="butt" stroke-linejoin="round"/>
<path d="M685.3,1542.5 l-6.2,8.2" fill="none" stroke="#000" stroke-width="3" stroke-linecap="butt" stroke-linejoin="round"/>
<path d="M694.3,1542.5 l-6.2,8.2" fill="none" stroke="#000" stroke-width="3" stroke-linecap="butt" stroke-linejoin="round"/>
<path d="M703.8,1542.5 l-6.2,8.2" fill="none" stroke="#000" stroke-width="3" stroke-linecap="butt" stroke-linejoin="round"/>
<circle cx="693.3" cy="1569.9" r="15.3" fill="#000"/>
<ellipse cx="1134" cy="1529.3" rx="10.3" ry="9.4" fill="#fff" stroke="#000" stroke-width="2.2"/>
<path d="M1116.5,1540.7 H1151.5" fill="none" stroke="#000" stroke-width="5" stroke-linecap="butt" stroke-linejoin="round"/>
<path d="M1126,1542.3 l-6.2,8.2" fill="none" stroke="#000" stroke-width="3" stroke-linecap="butt" stroke-linejoin="round"/>
<path d="M1135,1542.3 l-6.2,8.2" fill="none" stroke="#000" stroke-width="3" stroke-linecap="butt" stroke-linejoin="round"/>
<path d="M1144.5,1542.3 l-6.2,8.2" fill="none" stroke="#000" stroke-width="3" stroke-linecap="butt" stroke-linejoin="round"/>
<circle cx="1134" cy="1569.7" r="15.3" fill="#000"/>
<rect x="663.8" y="1088.5" width="180.20000000000005" height="125.0" rx="0" fill="none" stroke="#000" stroke-width="2.8"/>
<rect x="682.5999999999999" y="1113.2" width="141.20000000000005" height="74.3" rx="37.1" fill="none" stroke="#000" stroke-width="2.5"/>
<path d="M716.3,1088.5 V1133 C708.3,1133 704.6999999999999,1137 704.6999999999999,1142 C704.6999999999999,1147 706.3,1150 708.8,1151 C706.3,1152 704.6999999999999,1155 704.6999999999999,1159 C704.6999999999999,1165 709.3,1169.5 715.8,1169.5 H753.55" fill="none" stroke="#000" stroke-width="1.25" stroke-linecap="butt" stroke-linejoin="round"/>
<ellipse cx="716.6999999999999" cy="1150.8" rx="8.6" ry="3.6" fill="none" stroke="#000" stroke-width="1.3"/>
<path d="M790.8,1088.5 V1133 C798.8,1133 802.4,1137 802.4,1142 C802.4,1147 800.8,1150 798.3,1151 C800.8,1152 802.4,1155 802.4,1159 C802.4,1165 797.8,1169.5 791.3,1169.5 H753.55" fill="none" stroke="#000" stroke-width="1.25" stroke-linecap="butt" stroke-linejoin="round"/>
<ellipse cx="790.4" cy="1150.8" rx="8.6" ry="3.6" fill="none" stroke="#000" stroke-width="1.3"/>
<circle cx="753.55" cy="1169.5" r="5.8" fill="#000"/>
<path d="M753.55,1169 V1213.5" fill="none" stroke="#000" stroke-width="1.25" stroke-linecap="butt" stroke-linejoin="round"/>
<rect x="901" y="1088.5" width="182" height="125.0" rx="0" fill="none" stroke="#000" stroke-width="2.8"/>
<rect x="919.8" y="1113.2" width="143.0" height="74.3" rx="37.1" fill="none" stroke="#000" stroke-width="2.5"/>
<path d="M953.8,1088.5 V1133 C945.8,1133 942.1999999999999,1137 942.1999999999999,1142 C942.1999999999999,1147 943.8,1150 946.3,1151 C943.8,1152 942.1999999999999,1155 942.1999999999999,1159 C942.1999999999999,1165 946.8,1169.5 953.3,1169.5 H991.05" fill="none" stroke="#000" stroke-width="1.25" stroke-linecap="butt" stroke-linejoin="round"/>
<ellipse cx="954.1999999999999" cy="1150.8" rx="8.6" ry="3.6" fill="none" stroke="#000" stroke-width="1.3"/>
<path d="M1028.3,1088.5 V1133 C1036.3,1133 1039.8999999999999,1137 1039.8999999999999,1142 C1039.8999999999999,1147 1038.3,1150 1035.8,1151 C1038.3,1152 1039.8999999999999,1155 1039.8999999999999,1159 C1039.8999999999999,1165 1035.3,1169.5 1028.8,1169.5 H991.05" fill="none" stroke="#000" stroke-width="1.25" stroke-linecap="butt" stroke-linejoin="round"/>
<ellipse cx="1027.8999999999999" cy="1150.8" rx="8.6" ry="3.6" fill="none" stroke="#000" stroke-width="1.3"/>
<circle cx="991.05" cy="1169.5" r="5.8" fill="#000"/>
<path d="M991.05,1169 V1213.5" fill="none" stroke="#000" stroke-width="1.25" stroke-linecap="butt" stroke-linejoin="round"/>
<path d="M705.0,1070.5 L716.5,1078.375 L728.0,1070.5" fill="none" stroke="#000" stroke-width="1.3" stroke-linecap="butt" stroke-linejoin="round"/>
<path d="M705.0,1078.5 L716.5,1086.375 L728.0,1078.5" fill="none" stroke="#000" stroke-width="1.3" stroke-linecap="butt" stroke-linejoin="round"/>
<path d="M942.5,1070.5 L954,1078.375 L965.5,1070.5" fill="none" stroke="#000" stroke-width="1.3" stroke-linecap="butt" stroke-linejoin="round"/>
<path d="M942.5,1078.5 L954,1086.375 L965.5,1078.5" fill="none" stroke="#000" stroke-width="1.3" stroke-linecap="butt" stroke-linejoin="round"/>
<path d="M728,1081 H853 V1221 H764" fill="none" stroke="#000" stroke-width="1.35" stroke-dasharray="7 3" stroke-linecap="butt" stroke-linejoin="round"/>
<path d="M966,1081 H1091 V1221 H1001" fill="none" stroke="#000" stroke-width="1.35" stroke-dasharray="7 3" stroke-linecap="butt" stroke-linejoin="round"/>
<path d="M741.5,1221 L753,1214.0 L764.5,1221" fill="none" stroke="#000" stroke-width="1.3" stroke-linecap="butt" stroke-linejoin="round"/>
<path d="M741.5,1229 L753,1222.0 L764.5,1229" fill="none" stroke="#000" stroke-width="1.3" stroke-linecap="butt" stroke-linejoin="round"/>
<path d="M978.5,1221 L990,1214.0 L1001.5,1221" fill="none" stroke="#000" stroke-width="1.3" stroke-linecap="butt" stroke-linejoin="round"/>
<path d="M978.5,1229 L990,1222.0 L1001.5,1229" fill="none" stroke="#000" stroke-width="1.3" stroke-linecap="butt" stroke-linejoin="round"/>
</g>
<g id="text" opacity="0.999">
<text x="20.0" y="71.0" font-size="15.5" fill="#000" stroke="#000" stroke-width="0.35" textLength="131.0" lengthAdjust="spacingAndGlyphs">A/T without cruise</text>
<text x="20.0" y="89.5" font-size="15.5" fill="#000" stroke="#000" stroke-width="0.35" textLength="49.0" lengthAdjust="spacingAndGlyphs">control</text>
<text x="191.0" y="325.0" font-size="15.5" fill="#000" stroke="#000" stroke-width="0.35" textLength="27.0" lengthAdjust="spacingAndGlyphs">PNK</text>
<text x="95.5" y="137.8" font-size="17" fill="#000" stroke="#000" stroke-width="0.35" textLength="38.0" lengthAdjust="spacingAndGlyphs">4A/T</text>
<text x="85.0" y="156.4" font-size="17" fill="#000" stroke="#000" stroke-width="0.35" textLength="59.0" lengthAdjust="spacingAndGlyphs">Cont.M</text>
<text x="124.5" y="196.7" font-size="15" fill="#000" stroke="#000" stroke-width="0.35" textLength="35.0" lengthAdjust="spacingAndGlyphs">"A-6"</text>
<text x="105.2" y="213.8" font-size="15" font-weight="bold" fill="#fff" stroke="#fff" stroke-width="0.45" textLength="19.5" lengthAdjust="spacingAndGlyphs">WB</text>
<text x="87.0" y="248.0" font-size="15.5" fill="#000" stroke="#000" stroke-width="0.35" textLength="58.0" lengthAdjust="spacingAndGlyphs">WHT/BLK</text>
<text x="87.0" y="325.0" font-size="15.5" fill="#000" stroke="#000" stroke-width="0.35" textLength="58.0" lengthAdjust="spacingAndGlyphs">WHT/BLK</text>
<text x="59.5" y="274.2" font-size="22.5" font-weight="bold" fill="#000" stroke="#000" stroke-width="0.45" textLength="42.5" lengthAdjust="spacingAndGlyphs">G26</text>
<text x="62.0" y="298.0" font-size="22.5" font-weight="bold" fill="#000" stroke="#000" stroke-width="0.45" textLength="38.5" lengthAdjust="spacingAndGlyphs">E35</text>
<text x="136.2" y="282.7" font-size="16" text-anchor="middle" fill="#000" stroke="#000" stroke-width="0.35">4</text>
<text x="62.0" y="359.5" font-size="22.5" font-weight="bold" fill="#000" stroke="#000" stroke-width="0.45" textLength="39.0" lengthAdjust="spacingAndGlyphs">E32</text>
<text x="132.0" y="349.6" font-size="16" text-anchor="middle" fill="#000" stroke="#000" stroke-width="0.35">2</text>
<g transform="translate(215.00,349.60) scale(1.1869,1)" fill="#000" stroke="#000" stroke-width="0.35"><path d="M5.84,0.00 L5.84,-11.46 L4.72,-11.46 C4.32,-10.24 3.20,-9.36 1.68,-9.15 L1.68,-8.08 L4.40,-8.08 L4.40,0.00 Z"/><text x="8.90" y="0" font-size="16">o</text><text x="17.79" y="0" font-size="16">r</text><text x="23.12" y="0" font-size="16">3</text></g>
<text x="132.0" y="525.0" font-size="16" text-anchor="middle" fill="#000" stroke="#000" stroke-width="0.35">4</text>
<g transform="translate(216.00,525.00) scale(1.1088,1)" fill="#000" stroke="#000" stroke-width="0.35"><text x="0.00" y="0" font-size="16">3</text><text x="8.90" y="0" font-size="16">o</text><text x="17.79" y="0" font-size="16">r</text><path d="M28.96,0.00 L28.96,-11.46 L27.84,-11.46 C27.44,-10.24 26.32,-9.36 24.80,-9.15 L24.80,-8.08 L27.52,-8.08 L27.52,0.00 Z"/></g>
<text x="87.5" y="544.3" font-size="15.5" fill="#000" stroke="#000" stroke-width="0.35" textLength="58.0" lengthAdjust="spacingAndGlyphs">GRN/YEL</text>
<text x="172.0" y="544.3" font-size="15.5" fill="#000" stroke="#000" stroke-width="0.35" textLength="62.0" lengthAdjust="spacingAndGlyphs">GRN/WHT</text>
<g transform="translate(120.63,591.30) scale(1.0000,1)" fill="#000" stroke="#000" stroke-width="0.35"><path d="M5.47,0.00 L5.47,-10.74 L4.42,-10.74 C4.05,-9.60 3.00,-8.77 1.57,-8.58 L1.57,-7.58 L4.12,-7.58 L4.12,0.00 Z"/></g>
<g transform="translate(534.05,65.00) scale(0.9300,1)" fill="#000" stroke="#000" stroke-width="0.35"><path d="M8.58,0.00 L8.58,-16.83 L6.93,-16.83 C6.35,-15.04 4.70,-13.75 2.47,-13.44 L2.47,-11.87 L6.46,-11.87 L6.46,0.00 Z"/><path d="M21.64,0.00 L21.64,-16.83 L20.00,-16.83 C19.41,-15.04 17.77,-13.75 15.53,-13.44 L15.53,-11.87 L19.53,-11.87 L19.53,0.00 Z"/></g>
<g transform="translate(527.00,97.30) scale(1.1108,1)" fill="#000" stroke="#000" stroke-width="0.35"><path d="M6.10,0.00 L6.10,-11.96 L4.93,-11.96 C4.51,-10.69 3.34,-9.77 1.75,-9.55 L1.75,-8.43 L4.59,-8.43 L4.59,0.00 Z"/><text x="9.29" y="0" font-size="16.7">5</text><text x="18.57" y="0" font-size="16.7">A</text></g>
<text x="671.5" y="66.5" font-size="16" fill="#000" stroke="#000" stroke-width="0.35" textLength="34.5" lengthAdjust="spacingAndGlyphs">Main</text>
<text x="671.5" y="84.8" font-size="16" fill="#000" stroke="#000" stroke-width="0.35" textLength="30.5" lengthAdjust="spacingAndGlyphs">fuse</text>
<text x="567.5" y="283.8" font-size="15.5" fill="#000" stroke="#000" stroke-width="0.35" textLength="27.0" lengthAdjust="spacingAndGlyphs">PNK</text>
<text x="567.5" y="361.5" font-size="15.5" fill="#000" stroke="#000" stroke-width="0.35" textLength="27.0" lengthAdjust="spacingAndGlyphs">PNK</text>
<text x="471.4" y="182.0" font-size="18" fill="#000" stroke="#000" stroke-width="0.35" textLength="40.5" lengthAdjust="spacingAndGlyphs">ECM</text>
<text x="502.0" y="233.0" font-size="15" fill="#000" stroke="#000" stroke-width="0.35" textLength="36.0" lengthAdjust="spacingAndGlyphs">"A-5"</text>
<text x="482.2" y="249.7" font-size="14" font-weight="bold" fill="#fff" stroke="#fff" stroke-width="0.45" textLength="18.5" lengthAdjust="spacingAndGlyphs">BR</text>
<text x="464.0" y="283.8" font-size="15.5" fill="#000" stroke="#000" stroke-width="0.35" textLength="56.0" lengthAdjust="spacingAndGlyphs">BLK/RED</text>
<text x="464.0" y="361.5" font-size="15.5" fill="#000" stroke="#000" stroke-width="0.35" textLength="56.0" lengthAdjust="spacingAndGlyphs">BLK/RED</text>
<text x="435.0" y="312.0" font-size="22.5" font-weight="bold" fill="#000" stroke="#000" stroke-width="0.45" textLength="44.5" lengthAdjust="spacingAndGlyphs">G25</text>
<text x="437.5" y="334.5" font-size="22.5" font-weight="bold" fill="#000" stroke="#000" stroke-width="0.45" textLength="40.0" lengthAdjust="spacingAndGlyphs">E34</text>
<g transform="translate(502.94,318.50) scale(0.8500,1)" fill="#000" stroke="#000" stroke-width="0.35"><path d="M5.84,0.00 L5.84,-11.46 L4.72,-11.46 C4.32,-10.24 3.20,-9.36 1.68,-9.15 L1.68,-8.08 L4.40,-8.08 L4.40,0.00 Z"/><path d="M14.74,0.00 L14.74,-11.46 L13.62,-11.46 C13.22,-10.24 12.10,-9.36 10.58,-9.15 L10.58,-8.08 L13.30,-8.08 L13.30,0.00 Z"/></g>
<text x="526.0" y="312.0" font-size="22.5" font-weight="bold" fill="#000" stroke="#000" stroke-width="0.45" textLength="42.5" lengthAdjust="spacingAndGlyphs">C10</text>
<text x="528.0" y="334.5" font-size="22.5" font-weight="bold" fill="#000" stroke="#000" stroke-width="0.45" textLength="38.5" lengthAdjust="spacingAndGlyphs">E07</text>
<text x="600.5" y="319.0" font-size="16" text-anchor="middle" fill="#000" stroke="#000" stroke-width="0.35">6</text>
<text x="616.0" y="293.5" font-size="15.5" fill="#000" stroke="#000" stroke-width="0.35" textLength="51.0" lengthAdjust="spacingAndGlyphs">All M/T</text>
<text x="616.0" y="312.6" font-size="15.5" fill="#000" stroke="#000" stroke-width="0.35" textLength="107.0" lengthAdjust="spacingAndGlyphs">A/T with cruise</text>
<text x="616.0" y="331.4" font-size="15.5" fill="#000" stroke="#000" stroke-width="0.35" textLength="49.0" lengthAdjust="spacingAndGlyphs">control</text>
<text x="437.0" y="396.5" font-size="22.5" font-weight="bold" fill="#000" stroke="#000" stroke-width="0.45" textLength="40.5" lengthAdjust="spacingAndGlyphs">E32</text>
<text x="509.2" y="386.0" font-size="16" text-anchor="middle" fill="#000" stroke="#000" stroke-width="0.35">4</text>
<text x="597.0" y="386.0" font-size="16" text-anchor="middle" fill="#000" stroke="#000" stroke-width="0.35">2</text>
<text x="494.0" y="525.8" font-size="15.5" fill="#000" stroke="#000" stroke-width="0.35" textLength="33.0" lengthAdjust="spacingAndGlyphs">OFF</text>
<text x="585.0" y="525.8" font-size="15.5" fill="#000" stroke="#000" stroke-width="0.35" textLength="23.5" lengthAdjust="spacingAndGlyphs">ON</text>
<text x="635.0" y="459.5" font-size="15.5" fill="#000" stroke="#000" stroke-width="0.35" textLength="77.0" lengthAdjust="spacingAndGlyphs">Brake light</text>
<text x="635.0" y="478.0" font-size="15.5" fill="#000" stroke="#000" stroke-width="0.35" textLength="45.0" lengthAdjust="spacingAndGlyphs">switch</text>
<text x="475.8" y="561.0" font-size="16" text-anchor="middle" fill="#000" stroke="#000" stroke-width="0.35">3</text>
<g transform="translate(593.35,561.00) scale(1.0000,1)" fill="#000" stroke="#000" stroke-width="0.35"><path d="M5.84,0.00 L5.84,-11.46 L4.72,-11.46 C4.32,-10.24 3.20,-9.36 1.68,-9.15 L1.68,-8.08 L4.40,-8.08 L4.40,0.00 Z"/></g>
<text x="431.0" y="580.5" font-size="15.5" fill="#000" stroke="#000" stroke-width="0.35" textLength="58.0" lengthAdjust="spacingAndGlyphs">YEL/GRN</text>
<text x="548.5" y="580.5" font-size="15.5" fill="#000" stroke="#000" stroke-width="0.35" textLength="62.0" lengthAdjust="spacingAndGlyphs">GRN/WHT</text>
<text x="342.8" y="774.8" font-size="15" font-weight="bold" fill="#fff" stroke="#fff" stroke-width="0.45" textLength="22.0" lengthAdjust="spacingAndGlyphs">GW</text>
<text x="336.0" y="823.6" font-size="17" fill="#000" stroke="#000" stroke-width="0.35" textLength="37.0" lengthAdjust="spacingAndGlyphs">ABS</text>
<text x="325.0" y="842.2" font-size="17" fill="#000" stroke="#000" stroke-width="0.35" textLength="59.0" lengthAdjust="spacingAndGlyphs">Cont.M</text>
<text x="358.5" y="887.7" font-size="15" fill="#000" stroke="#000" stroke-width="0.35" textLength="36.0" lengthAdjust="spacingAndGlyphs">"F-2"</text>
<text x="449.4" y="774.8" font-size="15" font-weight="bold" fill="#fff" stroke="#fff" stroke-width="0.45" textLength="18.5" lengthAdjust="spacingAndGlyphs">YG</text>
<text x="433.0" y="823.6" font-size="17" fill="#000" stroke="#000" stroke-width="0.35" textLength="53.0" lengthAdjust="spacingAndGlyphs">Cruise</text>
<text x="430.0" y="842.2" font-size="17" fill="#000" stroke="#000" stroke-width="0.35" textLength="59.0" lengthAdjust="spacingAndGlyphs">Cont.M</text>
<text x="463.5" y="887.7" font-size="15" fill="#000" stroke="#000" stroke-width="0.35" textLength="36.0" lengthAdjust="spacingAndGlyphs">"F-4"</text>
<text x="523.5" y="693.5" font-size="22.5" font-weight="bold" fill="#000" stroke="#000" stroke-width="0.45" textLength="39.5" lengthAdjust="spacingAndGlyphs">E33</text>
<text x="525.0" y="718.0" font-size="22.5" font-weight="bold" fill="#000" stroke="#000" stroke-width="0.45" textLength="38.0" lengthAdjust="spacingAndGlyphs">L02</text>
<g transform="translate(594.00,692.00) scale(1.1241,1)" fill="#000" stroke="#000" stroke-width="0.35"><path d="M5.84,0.00 L5.84,-11.46 L4.72,-11.46 C4.32,-10.24 3.20,-9.36 1.68,-9.15 L1.68,-8.08 L4.40,-8.08 L4.40,0.00 Z"/><text x="8.90" y="0" font-size="16">0</text></g>
<text x="550.0" y="741.5" font-size="15.5" fill="#000" stroke="#000" stroke-width="0.35" textLength="62.0" lengthAdjust="spacingAndGlyphs">GRN/WHT</text>
<text x="599.0" y="824.3" font-size="15" font-weight="bold" fill="#fff" stroke="#fff" stroke-width="0.45" textLength="22.0" lengthAdjust="spacingAndGlyphs">GW</text>
<text x="738.0" y="157.5" font-size="15.5" fill="#000" stroke="#000" stroke-width="0.35" textLength="97.5" lengthAdjust="spacingAndGlyphs">Transmission</text>
<text x="740.0" y="176.0" font-size="15.5" fill="#000" stroke="#000" stroke-width="0.35" textLength="94.0" lengthAdjust="spacingAndGlyphs">range sensor</text>
<text x="797.5" y="197.2" font-size="15" fill="#000" stroke="#000" stroke-width="0.35" textLength="36.0" lengthAdjust="spacingAndGlyphs">"A-6"</text>
<text x="780.5" y="216.3" font-size="15" font-weight="bold" fill="#fff" stroke="#fff" stroke-width="0.45" textLength="19.0" lengthAdjust="spacingAndGlyphs">WB</text>
<text x="761.0" y="279.5" font-size="15.5" fill="#000" stroke="#000" stroke-width="0.35" textLength="58.0" lengthAdjust="spacingAndGlyphs">WHT/BLK</text>
<text x="899.5" y="279.5" font-size="15.5" fill="#000" stroke="#000" stroke-width="0.35" textLength="25.0" lengthAdjust="spacingAndGlyphs">BLK</text>
<text x="735.0" y="308.5" font-size="22.5" font-weight="bold" fill="#000" stroke="#000" stroke-width="0.45" textLength="42.0" lengthAdjust="spacingAndGlyphs">C04</text>
<text x="806.2" y="303.0" font-size="16" text-anchor="middle" fill="#000" stroke="#000" stroke-width="0.35">3</text>
<g transform="translate(924.35,303.00) scale(1.0000,1)" fill="#000" stroke="#000" stroke-width="0.35"><path d="M5.84,0.00 L5.84,-11.46 L4.72,-11.46 C4.32,-10.24 3.20,-9.36 1.68,-9.15 L1.68,-8.08 L4.40,-8.08 L4.40,0.00 Z"/></g>
<text x="966.0" y="365.0" font-size="15.5" fill="#000" stroke="#000" stroke-width="0.35" textLength="55.0" lengthAdjust="spacingAndGlyphs">AT shift</text>
<text x="966.0" y="384.0" font-size="15.5" fill="#000" stroke="#000" stroke-width="0.35" textLength="94.0" lengthAdjust="spacingAndGlyphs">lock solenoid</text>
<text x="966.0" y="403.5" font-size="15.5" fill="#000" stroke="#000" stroke-width="0.35" textLength="35.0" lengthAdjust="spacingAndGlyphs">relay</text>
<text x="807.5" y="453.5" font-size="16" text-anchor="middle" fill="#000" stroke="#000" stroke-width="0.35">2</text>
<text x="928.8" y="453.5" font-size="16" text-anchor="middle" fill="#000" stroke="#000" stroke-width="0.35">4</text>
<text x="757.5" y="483.0" font-size="15.5" fill="#000" stroke="#000" stroke-width="0.35" textLength="62.0" lengthAdjust="spacingAndGlyphs">GRN/WHT</text>
<text x="883.2" y="483.0" font-size="15.5" fill="#000" stroke="#000" stroke-width="0.35" textLength="57.5" lengthAdjust="spacingAndGlyphs">GRN/YEL</text>
<text x="733.0" y="532.0" font-size="22.5" font-weight="bold" fill="#000" stroke="#000" stroke-width="0.45" textLength="41.5" lengthAdjust="spacingAndGlyphs">C54</text>
<text x="734.0" y="555.0" font-size="22.5" font-weight="bold" fill="#000" stroke="#000" stroke-width="0.45" textLength="40.0" lengthAdjust="spacingAndGlyphs">E53</text>
<text x="814.5" y="528.5" font-size="16" text-anchor="middle" fill="#000" stroke="#000" stroke-width="0.35">2</text>
<g transform="translate(929.35,528.50) scale(1.0000,1)" fill="#000" stroke="#000" stroke-width="0.35"><path d="M5.84,0.00 L5.84,-11.46 L4.72,-11.46 C4.32,-10.24 3.20,-9.36 1.68,-9.15 L1.68,-8.08 L4.40,-8.08 L4.40,0.00 Z"/></g>
<text x="883.2" y="580.3" font-size="15.5" fill="#000" stroke="#000" stroke-width="0.35" textLength="57.5" lengthAdjust="spacingAndGlyphs">GRN/YEL</text>
<g transform="translate(841.63,628.50) scale(1.0000,1)" fill="#000" stroke="#000" stroke-width="0.35"><path d="M5.47,0.00 L5.47,-10.74 L4.42,-10.74 C4.05,-9.60 3.00,-8.77 1.57,-8.58 L1.57,-7.58 L4.12,-7.58 L4.12,0.00 Z"/></g>
<text x="934.5" y="692.0" font-size="16" text-anchor="middle" fill="#000" stroke="#000" stroke-width="0.35">9</text>
<text x="985.0" y="692.0" font-size="22.5" font-weight="bold" fill="#000" stroke="#000" stroke-width="0.45" textLength="40.0" lengthAdjust="spacingAndGlyphs">E36</text>
<text x="983.5" y="716.5" font-size="22.5" font-weight="bold" fill="#000" stroke="#000" stroke-width="0.45" textLength="41.5" lengthAdjust="spacingAndGlyphs">G27</text>
<text x="1066.5" y="695.0" font-size="16" text-anchor="middle" fill="#000" stroke="#000" stroke-width="0.35">6</text>
<text x="883.2" y="741.5" font-size="15.5" fill="#000" stroke="#000" stroke-width="0.35" textLength="57.5" lengthAdjust="spacingAndGlyphs">GRN/YEL</text>
<text x="1012.0" y="741.5" font-size="15.5" fill="#000" stroke="#000" stroke-width="0.35" textLength="62.0" lengthAdjust="spacingAndGlyphs">GRN/WHT</text>
<text x="901.8" y="774.8" font-size="15" font-weight="bold" fill="#fff" stroke="#fff" stroke-width="0.45" textLength="18.5" lengthAdjust="spacingAndGlyphs">GY</text>
<text x="1031.0" y="774.8" font-size="15" font-weight="bold" fill="#fff" stroke="#fff" stroke-width="0.45" textLength="22.0" lengthAdjust="spacingAndGlyphs">GW</text>
<text x="880.5" y="815.5" font-size="15.5" fill="#000" stroke="#000" stroke-width="0.35" textLength="61.0" lengthAdjust="spacingAndGlyphs">A/T shift</text>
<text x="893.0" y="834.0" font-size="15.5" fill="#000" stroke="#000" stroke-width="0.35" textLength="36.0" lengthAdjust="spacingAndGlyphs">lever</text>
<text x="916.5" y="855.7" font-size="15" fill="#000" stroke="#000" stroke-width="0.35" textLength="36.0" lengthAdjust="spacingAndGlyphs">"A-6"</text>
<text x="1023.5" y="823.6" font-size="17" fill="#000" stroke="#000" stroke-width="0.35" textLength="38.0" lengthAdjust="spacingAndGlyphs">4A/T</text>
<text x="1013.0" y="842.2" font-size="17" fill="#000" stroke="#000" stroke-width="0.35" textLength="59.0" lengthAdjust="spacingAndGlyphs">Cont.M</text>
<text x="1046.5" y="887.7" font-size="15" fill="#000" stroke="#000" stroke-width="0.35" textLength="36.0" lengthAdjust="spacingAndGlyphs">"A-6"</text>
<text x="62.0" y="950.5" font-size="15.5" fill="#000" stroke="#000" stroke-width="0.35" textLength="46.0" lengthAdjust="spacingAndGlyphs">Sedan</text>
<text x="122.0" y="1012.5" font-size="22.5" font-weight="bold" fill="#000" stroke="#000" stroke-width="0.45" textLength="38.0" lengthAdjust="spacingAndGlyphs">L97</text>
<text x="119.5" y="1036.5" font-size="22.5" font-weight="bold" fill="#000" stroke="#000" stroke-width="0.45" textLength="40.5" lengthAdjust="spacingAndGlyphs">M01</text>
<g transform="translate(197.35,1013.00) scale(1.0000,1)" fill="#000" stroke="#000" stroke-width="0.35"><path d="M5.84,0.00 L5.84,-11.46 L4.72,-11.46 C4.32,-10.24 3.20,-9.36 1.68,-9.15 L1.68,-8.08 L4.40,-8.08 L4.40,0.00 Z"/></g>
<text x="141.0" y="1057.3" font-size="16" fill="#000" stroke="#000" stroke-width="0.35" textLength="78.0" lengthAdjust="spacingAndGlyphs">GRN/WHT</text>
<text x="314.5" y="1057.3" font-size="16" fill="#000" stroke="#000" stroke-width="0.35" textLength="78.0" lengthAdjust="spacingAndGlyphs">GRN/WHT</text>
<text x="121.0" y="1086.5" font-size="22.5" font-weight="bold" fill="#000" stroke="#000" stroke-width="0.45" textLength="44.0" lengthAdjust="spacingAndGlyphs">M04</text>
<g transform="translate(192.35,1083.50) scale(1.0000,1)" fill="#000" stroke="#000" stroke-width="0.35"><path d="M5.84,0.00 L5.84,-11.46 L4.72,-11.46 C4.32,-10.24 3.20,-9.36 1.68,-9.15 L1.68,-8.08 L4.40,-8.08 L4.40,0.00 Z"/></g>
<text x="82.5" y="1116.5" font-size="16" fill="#000" stroke="#000" stroke-width="0.35" textLength="33.0" lengthAdjust="spacingAndGlyphs">High</text>
<text x="67.5" y="1135.5" font-size="16" fill="#000" stroke="#000" stroke-width="0.35" textLength="63.0" lengthAdjust="spacingAndGlyphs">mounted</text>
<text x="66.0" y="1154.0" font-size="16" fill="#000" stroke="#000" stroke-width="0.35" textLength="66.0" lengthAdjust="spacingAndGlyphs">stop light</text>
<text x="90.5" y="1172.5" font-size="16" fill="#000" stroke="#000" stroke-width="0.35" textLength="17.0" lengthAdjust="spacingAndGlyphs">#2</text>
<text x="256.5" y="1116.5" font-size="16" fill="#000" stroke="#000" stroke-width="0.35" textLength="33.0" lengthAdjust="spacingAndGlyphs">High</text>
<text x="241.5" y="1135.5" font-size="16" fill="#000" stroke="#000" stroke-width="0.35" textLength="63.0" lengthAdjust="spacingAndGlyphs">mounted</text>
<text x="240.0" y="1154.0" font-size="16" fill="#000" stroke="#000" stroke-width="0.35" textLength="66.0" lengthAdjust="spacingAndGlyphs">stop light</text>
<g transform="translate(264.50,1172.50) scale(0.9555,1)" fill="#000" stroke="#000" stroke-width="0.35"><text x="0.00" y="0" font-size="16">&#35;</text><path d="M14.74,0.00 L14.74,-11.46 L13.62,-11.46 C13.22,-10.24 12.10,-9.36 10.58,-9.15 L10.58,-8.08 L13.30,-8.08 L13.30,0.00 Z"/></g>
<text x="198.8" y="1210.5" font-size="16" text-anchor="middle" fill="#000" stroke="#000" stroke-width="0.35">2</text>
<text x="374.2" y="1210.5" font-size="16" text-anchor="middle" fill="#000" stroke="#000" stroke-width="0.35">2</text>
<text x="164.5" y="1304.0" font-size="16" fill="#000" stroke="#000" stroke-width="0.35" textLength="30.0" lengthAdjust="spacingAndGlyphs">BLK</text>
<text x="164.5" y="1449.5" font-size="16" fill="#000" stroke="#000" stroke-width="0.35" textLength="30.0" lengthAdjust="spacingAndGlyphs">BLK</text>
<text x="339.5" y="1304.0" font-size="16" fill="#000" stroke="#000" stroke-width="0.35" textLength="30.0" lengthAdjust="spacingAndGlyphs">BLK</text>
<text x="202.8" y="1361.5" font-size="16" text-anchor="middle" fill="#000" stroke="#000" stroke-width="0.35">2</text>
<g transform="translate(166.31,1579.40) scale(1.0000,1)" fill="#fff" stroke="#fff" stroke-width="0.2"><path d="M8.39,0.00 L8.39,-16.47 L6.78,-16.47 C6.21,-14.72 4.60,-13.45 2.42,-13.16 L2.42,-11.62 L6.33,-11.62 L6.33,0.00 Z"/><text x="12.79" y="0" font-size="23">8</text></g>
<text x="299.0" y="1086.5" font-size="22.5" font-weight="bold" fill="#000" stroke="#000" stroke-width="0.45" textLength="38.0" lengthAdjust="spacingAndGlyphs">L85</text>
<g transform="translate(368.35,1083.50) scale(1.0000,1)" fill="#000" stroke="#000" stroke-width="0.35"><path d="M5.84,0.00 L5.84,-11.46 L4.72,-11.46 C4.32,-10.24 3.20,-9.36 1.68,-9.15 L1.68,-8.08 L4.40,-8.08 L4.40,0.00 Z"/></g>
<text x="457.0" y="950.5" font-size="15.5" fill="#000" stroke="#000" stroke-width="0.35" textLength="50.0" lengthAdjust="spacingAndGlyphs">Wagon</text>
<text x="524.0" y="1085.5" font-size="22.5" font-weight="bold" fill="#000" stroke="#000" stroke-width="0.45" textLength="38.5" lengthAdjust="spacingAndGlyphs">L85</text>
<text x="598.8" y="1083.0" font-size="16" text-anchor="middle" fill="#000" stroke="#000" stroke-width="0.35">2</text>
<text x="479.5" y="1122.5" font-size="16" fill="#000" stroke="#000" stroke-width="0.35" textLength="33.0" lengthAdjust="spacingAndGlyphs">High</text>
<text x="464.5" y="1141.5" font-size="16" fill="#000" stroke="#000" stroke-width="0.35" textLength="63.0" lengthAdjust="spacingAndGlyphs">mounted</text>
<text x="463.0" y="1160.0" font-size="16" fill="#000" stroke="#000" stroke-width="0.35" textLength="66.0" lengthAdjust="spacingAndGlyphs">stop light</text>
<g transform="translate(595.35,1205.50) scale(1.0000,1)" fill="#000" stroke="#000" stroke-width="0.35"><path d="M5.84,0.00 L5.84,-11.46 L4.72,-11.46 C4.32,-10.24 3.20,-9.36 1.68,-9.15 L1.68,-8.08 L4.40,-8.08 L4.40,0.00 Z"/></g>
<text x="567.5" y="1303.5" font-size="15.5" fill="#000" stroke="#000" stroke-width="0.35" textLength="25.0" lengthAdjust="spacingAndGlyphs">BLK</text>
<text x="641.0" y="1451.5" font-size="22" font-weight="bold" fill="#000" stroke="#000" stroke-width="0.45" textLength="38.0" lengthAdjust="spacingAndGlyphs">L13</text>
<text x="641.0" y="1476.0" font-size="22" font-weight="bold" fill="#000" stroke="#000" stroke-width="0.45" textLength="38.0" lengthAdjust="spacingAndGlyphs">L49</text>
<text x="714.8" y="1453.0" font-size="16" text-anchor="middle" fill="#000" stroke="#000" stroke-width="0.35">3</text>
<text x="681.5" y="1501.0" font-size="14" fill="#000" stroke="#000" stroke-width="0.35" textLength="23.5" lengthAdjust="spacingAndGlyphs">BLK</text>
<g transform="translate(567.31,1578.90) scale(1.0000,1)" fill="#fff" stroke="#fff" stroke-width="0.2"><path d="M8.39,0.00 L8.39,-16.47 L6.78,-16.47 C6.21,-14.72 4.60,-13.45 2.42,-13.16 L2.42,-11.62 L6.33,-11.62 L6.33,0.00 Z"/><text x="12.79" y="0" font-size="23">5</text></g>
<g transform="translate(617.41,1578.90) scale(1.0000,1)" fill="#fff" stroke="#fff" stroke-width="0.2"><path d="M8.39,0.00 L8.39,-16.47 L6.78,-16.47 C6.21,-14.72 4.60,-13.45 2.42,-13.16 L2.42,-11.62 L6.33,-11.62 L6.33,0.00 Z"/><text x="12.79" y="0" font-size="23">7</text></g>
<g transform="translate(680.51,1578.90) scale(1.0000,1)" fill="#fff" stroke="#fff" stroke-width="0.2"><text x="0.00" y="0" font-size="23">2</text><text x="12.79" y="0" font-size="23">0</text></g>
<g transform="translate(1127.61,1578.70) scale(1.0000,1)" fill="#fff" stroke="#fff" stroke-width="0.2"><text x="0.00" y="0" font-size="23">4</text></g>
<text x="660.0" y="1083.0" font-size="22.5" font-weight="bold" fill="#000" stroke="#000" stroke-width="0.45" textLength="38.0" lengthAdjust="spacingAndGlyphs">L45</text>
<text x="736.5" y="1074.5" font-size="15.5" text-anchor="middle" fill="#000" stroke="#000" stroke-width="0.35">3</text>
<text x="897.0" y="1080.5" font-size="22.5" font-weight="bold" fill="#000" stroke="#000" stroke-width="0.45" textLength="38.0" lengthAdjust="spacingAndGlyphs">L19</text>
<text x="972.5" y="1074.5" font-size="15.5" text-anchor="middle" fill="#000" stroke="#000" stroke-width="0.35">3</text>
<text x="770.0" y="1244.5" font-size="16" text-anchor="middle" fill="#000" stroke="#000" stroke-width="0.35">2</text>
<text x="1014.2" y="1244.5" font-size="16" text-anchor="middle" fill="#000" stroke="#000" stroke-width="0.35">2</text>
<text x="839.5" y="1243.5" font-size="15" fill="#000" stroke="#000" stroke-width="0.35" textLength="19.5" lengthAdjust="spacingAndGlyphs">(L)</text>
<text x="949.0" y="1243.5" font-size="15" fill="#000" stroke="#000" stroke-width="0.35" textLength="22.0" lengthAdjust="spacingAndGlyphs">(R)</text>
<text x="868.0" y="1267.5" font-size="15.5" fill="#000" stroke="#000" stroke-width="0.35" textLength="77.0" lengthAdjust="spacingAndGlyphs">Brake light</text>
</g>
</svg></body></html>
